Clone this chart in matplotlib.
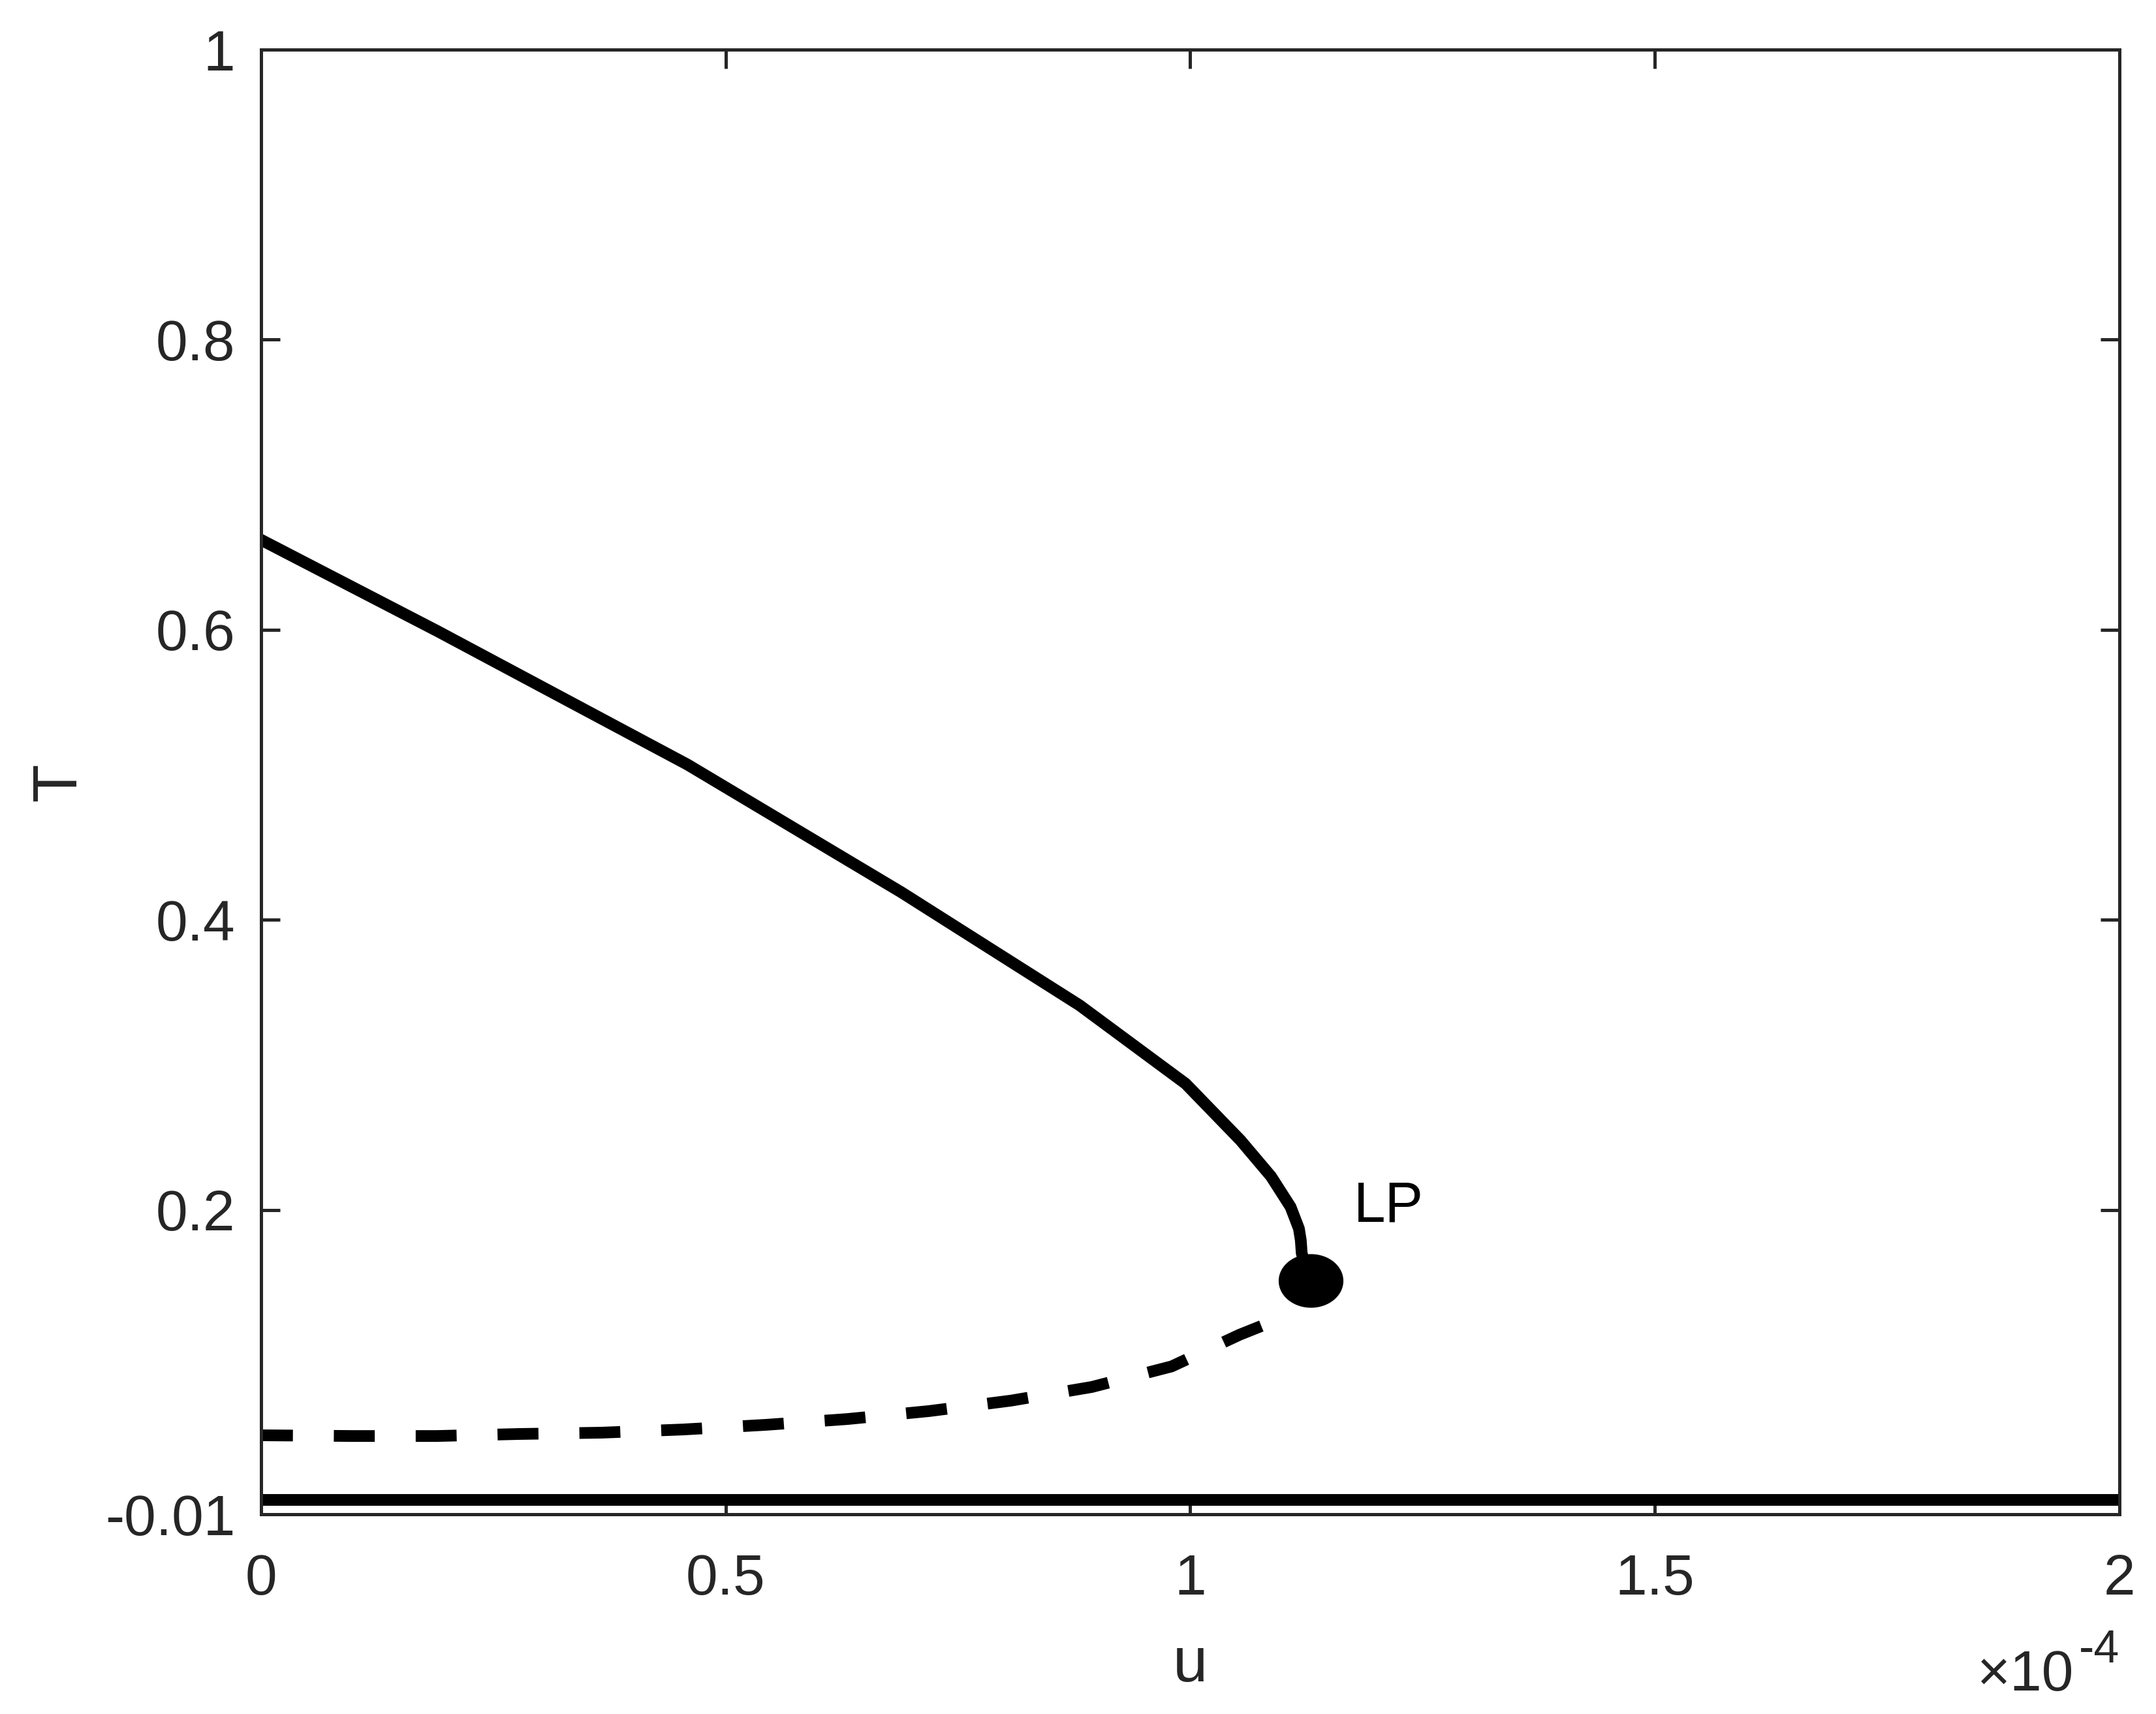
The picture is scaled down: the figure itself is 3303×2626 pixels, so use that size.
import numpy as np
import matplotlib.pyplot as plt
from matplotlib.path import Path

plt.rcParams['font.family'] = ['Liberation Sans', 'DejaVu Sans']

# stable branch (solid)
u_stable = np.array([0.0, 0.190, 0.459, 0.689, 0.881, 0.995, 1.054, 1.087, 1.098,
                     1.108, 1.117, 1.119, 1.120, 1.129]) * 1e-4
T_stable = np.array([0.662, 0.599, 0.507, 0.419, 0.341, 0.287, 0.248, 0.223, 0.212,
                     0.202, 0.187, 0.179, 0.170, 0.151])

# unstable branch (dashed)
u_unstable = np.array([0.0, 0.100, 0.189, 0.278, 0.366, 0.454, 0.543, 0.631, 0.719,
                       0.807, 0.894, 0.980, 1.053, 1.083, 1.110, 1.129]) * 1e-4
T_unstable = np.array([0.0445, 0.044, 0.044, 0.0454, 0.0463, 0.0485, 0.0517, 0.0557, 0.0612,
                       0.0684, 0.0778, 0.092, 0.1138, 0.1215, 0.137, 0.151])

# trivial branch T = 0
u_zero = np.array([0.0, 2.0]) * 1e-4
T_zero = np.array([0.0, 0.0])

# limit point
lp_u = 1.1294e-4
lp_T = 0.1512

xticks = np.array([0, 0.5, 1, 1.5, 2]) * 1e-4
xtick_labels = ['0', '0.5', '1', '1.5', '2']
yticks = [-0.01, 0.2, 0.4, 0.6, 0.8, 1]
ytick_labels = ['-0.01', '0.2', '0.4', '0.6', '0.8', '1']

grey = '#262626'
lw = 4.3

fig = plt.figure(figsize=(3303/300, 2626/300), dpi=300)
ax = fig.add_axes([0.1211, 0.1165, 0.8619, 0.8545])

ax.plot(u_zero, T_zero, color='k', lw=lw)
ax.plot(u_stable, T_stable, color='k', lw=lw, solid_joinstyle='round')
ax.plot(u_unstable, T_unstable, color='k', lw=lw, linestyle=(0.78, (3.5, 3.5)))

# elliptical marker at the LP
circ = Path.unit_circle()
ell = Path(circ.vertices * np.array([1.0, 78/95]), circ.codes)
ax.plot([lp_u], [lp_T], marker=ell, markersize=22.8, color='k', linestyle='none')
ax.annotate('LP', xy=(lp_u, lp_T), xytext=(16, 21.6), textcoords='offset points',
            fontsize=21, va='baseline', ha='left', color='k')

ax.set_xlim(0, 2e-4)
ax.set_ylim(-0.01, 1)
ax.set_xticks(xticks)
ax.set_xticklabels(xtick_labels)
ax.set_yticks(yticks)
ax.set_yticklabels(ytick_labels)

ax.tick_params(direction='in', length=7, width=1.2, color=grey, labelcolor=grey,
               labelsize=21, top=True, right=True)
ax.tick_params(axis='x', pad=14.5)
ax.tick_params(axis='y', pad=9.5)
for s in ax.spines.values():
    s.set_linewidth(1.2)
    s.set_color(grey)

ax.set_xlabel('u', fontsize=23, color=grey)
ax.xaxis.set_label_coords(0.5, -0.1141)
ax.xaxis.label.set_va('baseline')
ax.set_ylabel('T', fontsize=23, color=grey)
ax.yaxis.set_label_coords(-0.0998, 0.5)
ax.yaxis.label.set_va('baseline')

# exponent label
ax.text(0.9754, -0.1203, '\u00d710', transform=ax.transAxes, ha='right', va='baseline',
        fontsize=21, color=grey)
ax.text(1.0, -0.1012, '-4', transform=ax.transAxes, ha='right', va='baseline',
        fontsize=16.8, color=grey)

plt.savefig('out.png', dpi=300)
